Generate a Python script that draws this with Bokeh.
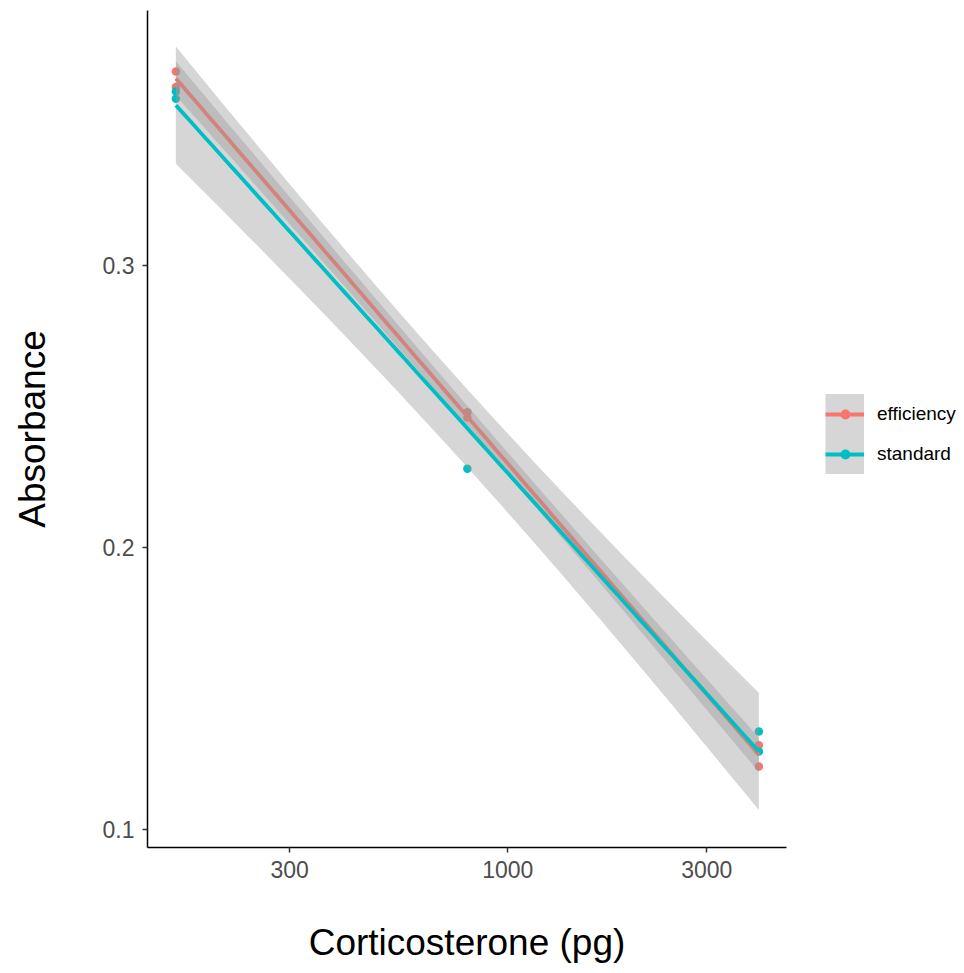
import numpy as np
from bokeh.plotting import figure
from bokeh.models import Range1d, FixedTicker, PrintfTickFormatter, Legend, LegendItem
from bokeh.embed import file_html
from bokeh.resources import INLINE

# ---- data ----
eff_pg = [160, 160, 800, 800, 4000, 4000]
eff_abs = [0.3685, 0.3630, 0.2479, 0.2460, 0.1225, 0.1300]
std_pg = [160, 160, 800, 4000, 4000]
std_abs = [0.3614, 0.3589, 0.2279, 0.1349, 0.1278]
series_names = ["efficiency", "standard"]
series_colors = ["#F8766D", "#00BFC4"]
x_ticks = [300, 1000, 3000]
y_ticks = [0.1, 0.2, 0.3]

# t quantiles (0.975) by degrees of freedom
T975 = {1: 12.706, 2: 4.303, 3: 3.182, 4: 2.776, 5: 2.571, 6: 2.447, 7: 2.365, 8: 2.306}


def lm_fit(xs, ys, npts=80):
    lx = np.log10(np.array(xs, dtype=float))
    y = np.array(ys, dtype=float)
    n = len(lx)
    xb, yb = lx.mean(), y.mean()
    sxx = ((lx - xb) ** 2).sum()
    b = ((lx - xb) * (y - yb)).sum() / sxx
    a = yb - b * xb
    res = y - (a + b * lx)
    s = np.sqrt((res ** 2).sum() / (n - 2))
    g = np.linspace(lx.min(), lx.max(), npts)
    f = a + b * g
    se = s * np.sqrt(1.0 / n + (g - xb) ** 2 / sxx)
    t = T975[n - 2]
    return 10 ** g, f, f - t * se, f + t * se


FONT = "Liberation Sans"

p = figure(frame_width=639, frame_height=837, x_axis_type="log",
           x_range=Range1d(136.8, 4659), y_range=Range1d(0.0938, 0.3901),
           output_backend="svg", toolbar_location=None,
           min_border_left=147, min_border_right=178,
           min_border_top=10, min_border_bottom=124)

p.outline_line_color = None
p.xgrid.visible = False
p.ygrid.visible = False
p.background_fill_color = "white"

data = [(eff_pg, eff_abs), (std_pg, std_abs)]

# points layer first (all groups)
pts = []
for (xs, ys), col in zip(data, series_colors):
    pts.append(p.scatter(xs, ys, size=8.5, fill_color=col, line_color=None))

# smooth layer: per group ribbon then line
lines = []
for (xs, ys), col in zip(data, series_colors):
    gx, f, lo, hi = lm_fit(xs, ys)
    p.varea(x=gx, y1=lo, y2=hi, fill_color="#999999", fill_alpha=0.4)
    lines.append(p.line(gx, f, line_color=col, line_width=3.8))

# legend-only helpers: single-point lines draw nothing inside the plot
bgs, dots = [], []
for (xs, ys), col in zip(data, series_colors):
    bgs.append(p.line(xs[:1], ys[:1], line_color="#D6D6D6", line_width=42, line_cap="butt"))
    dots.append(p.line(xs[:1], ys[:1], line_color=col, line_width=10, line_cap="round",
                       line_dash="0 200", line_dash_offset=-20))

items = [LegendItem(label=nm, renderers=[bg, ln, dt])
         for nm, bg, ln, dt in zip(series_names, bgs, lines, dots)]
legend = Legend(items=items, location=(39, 373), orientation="vertical",
                glyph_width=39, glyph_height=40, label_height=40, spacing=-1,
                padding=0, margin=0,
                label_standoff=13, label_text_font=FONT, label_text_font_size="19px",
                label_text_color="black", background_fill_alpha=0, border_line_alpha=0)
p.add_layout(legend, "right")

for ax in (p.xaxis[0], p.yaxis[0]):
    ax.axis_line_color = "black"
    ax.axis_line_width = 1.5
    ax.major_tick_line_color = "#333333"
    ax.major_tick_line_width = 1.5
    ax.major_tick_out = 5
    ax.major_tick_in = 0
    ax.minor_tick_line_color = None
    ax.major_label_text_font = FONT
    ax.major_label_text_font_size = "23px"
    ax.major_label_text_color = "#4D4D4D"
    ax.axis_label_text_font = FONT
    ax.axis_label_text_font_size = "37px"
    ax.axis_label_text_font_style = "normal"
    ax.axis_label_text_color = "black"

p.xaxis[0].ticker = FixedTicker(ticks=x_ticks)
p.xaxis[0].formatter = PrintfTickFormatter(format="%d")
p.xaxis[0].axis_label = "Corticosterone (pg)"
p.xaxis[0].major_label_standoff = 8
p.xaxis[0].axis_label_standoff = 41

p.yaxis[0].ticker = FixedTicker(ticks=y_ticks)
p.yaxis[0].axis_label = "Absorbance"
p.yaxis[0].major_label_standoff = 8
p.yaxis[0].axis_label_standoff = 47

open("out.html", "w").write(file_html(p, INLINE))
